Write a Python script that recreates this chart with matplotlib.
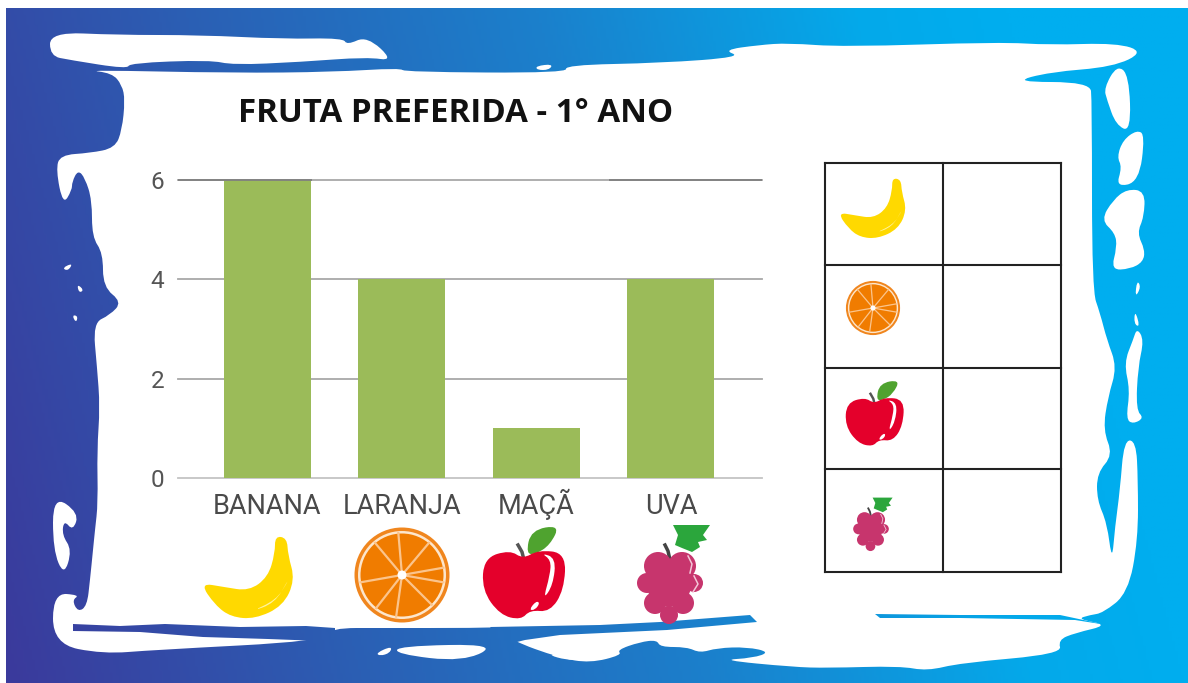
import numpy as np
import matplotlib
matplotlib.use('Agg')
import matplotlib.pyplot as plt
from matplotlib.colors import LinearSegmentedColormap
from matplotlib.patches import Polygon, Circle, PathPatch
from matplotlib.path import Path

# chart data
categories = ['BANANA', 'LARANJA', 'MAÇÃ', 'UVA']
votes = [6, 4, 1, 4]
y_ticks = [0, 2, 4, 6]
title = 'FRUTA PREFERIDA - 1° ANO'

W, H = 1188, 683
fig = plt.figure(figsize=(W / 100, H / 100), dpi=100, facecolor='white')

# full figure axes in pixel coords for the frame, table and icons
bg = fig.add_axes([0, 0, 1, 1], zorder=0)
bg.axis('off')

xx, yy = np.meshgrid(np.linspace(0, 1, 400), np.linspace(0, 1, 200))
grad = xx + 0.15 * (1 - yy)
cmap = LinearSegmentedColormap.from_list(
    'frame', [(0, '#3B3A9C'), (0.3, '#2B5FB4'), (0.6, '#1B80CC'), (0.87, '#04A9EA'), (1, '#00AEEF')])
extent = (6, W, H, 8)
bg.imshow(grad, cmap=cmap, vmin=0, vmax=1, extent=extent, aspect='auto', zorder=0)


def smooth(pts, color, z=5):
    # closed quadratic spline through the midpoints
    pts = np.array(pts, dtype=float)
    nxt = np.roll(pts, -1, axis=0)
    mids = (pts + nxt) / 2
    verts = [mids[-1]]
    codes = [Path.MOVETO]
    for p, m in zip(pts, mids):
        verts += [p, m]
        codes += [Path.CURVE3, Path.CURVE3]
    bg.add_patch(PathPatch(Path(verts, codes), fc=color, ec='none', zorder=z))


def white(pts, z=1):
    smooth(pts, 'white', z)


def blue(pts, z=2):
    # blue bits on top of the white brush, same gradient as the back
    im = bg.imshow(grad, cmap=cmap, vmin=0, vmax=1, extent=extent, aspect='auto', zorder=z)
    im.set_clip_path(Polygon(pts, closed=True, transform=bg.transData))


# main brush stroke
white([(85, 70), (112, 73), (122, 85), (125, 100), (122, 130), (115, 148), (90, 153), (60, 155), (56, 170),
       (63, 205), (72, 190), (72, 182), (78, 170), (85, 178), (92, 200), (92, 237), (103, 253), (103, 287),
       (122, 302), (110, 315), (93, 323), (97, 367), (100, 407), (97, 450), (98, 503), (95, 530), (93, 550),
       (90, 580), (87, 606), (78, 612), (72, 600), (80, 595), (53, 593), (53, 644), (103, 654), (153, 650),
       (325, 641), (330, 628), (383, 628), (478, 628), (500, 627), (510, 640), (560, 658), (590, 663),
       (622, 655), (617, 650), (640, 642), (657, 640), (660, 647), (687, 647), (700, 653), (717, 648),
       (747, 647), (770, 652), (753, 658), (720, 660), (793, 667), (827, 668), (900, 666), (927, 671),
       (960, 663), (1062, 654), (1058, 640), (1075, 633), (1109, 625), (1077, 619), (1090, 615), (1103, 613),
       (1128, 593), (1138, 540), (1138, 480), (1136, 441), (1124, 440), (1120, 490), (1115, 527), (1112, 562),
       (1107, 523), (1097, 500), (1097, 473), (1113, 455), (1103, 430), (1108, 397), (1117, 367), (1107, 340),
       (1100, 313), (1092, 290), (1092, 100), (1090, 82), (1012, 82), (1050, 72), (1113, 67), (1144, 52),
       (1117, 43), (1050, 45), (1000, 42), (843, 47), (788, 43), (759, 45), (723, 50), (742, 57), (662, 63),
       (565, 65), (567, 73), (405, 72), (400, 68), (333, 72), (233, 73)])
# top left strip
white([(50, 32), (117, 35), (200, 35), (283, 39), (343, 38), (347, 45), (367, 36), (394, 61), (367, 57),
       (300, 62), (233, 65), (210, 60), (130, 63), (127, 69), (70, 60), (50, 56)])
# right side flakes
white([(1117, 65), (1129, 75), (1131, 132), (1116, 125), (1107, 100), (1104, 88)])
white([(1137, 130), (1145, 135), (1139, 182), (1116, 187), (1122, 167), (1117, 157), (1123, 140)])
white([(1127, 189), (1145, 191), (1144, 217), (1137, 233), (1145, 250), (1143, 262), (1130, 269), (1111, 270),
       (1117, 247), (1115, 233), (1101, 220), (1113, 200)])
white([(1137, 280), (1141, 287), (1135, 298)])
white([(1135, 310), (1140, 327), (1134, 324)])
white([(1137, 328), (1144, 340), (1138, 367), (1136, 410), (1144, 418), (1133, 424), (1126, 419), (1130, 390),
       (1124, 363), (1133, 340)])
# left side flakes
white([(53, 495), (79, 513), (73, 531), (64, 520), (62, 535), (72, 550), (64, 576), (53, 550)])
white([(62, 268), (73, 263), (68, 271)])
white([(77, 284), (84, 290), (79, 293)])
white([(72, 315), (78, 316), (76, 323)])
# bottom flakes
white([(376, 653), (392, 646), (390, 653), (380, 656)])
white([(398, 646), (499, 644), (463, 662), (396, 654)])
white([(541, 653), (602, 655), (574, 662)])
white([(536, 66), (553, 64), (549, 70), (537, 70)])

# blue strips over the white
blue([(73, 624), (120, 626), (165, 624), (240, 627), (306, 626), (335, 628), (335, 645), (321, 641), (268, 639),
      (203, 637), (140, 632), (73, 631)])
blue([(490, 627), (600, 625), (660, 622), (750, 615), (757, 622), (667, 630), (560, 635), (525, 640), (505, 645)])
blue([(875, 614), (960, 615), (1060, 615), (1107, 625), (1075, 620), (960, 618), (880, 618)])

# table on the right
table_x = [825, 943, 1061]
table_y = [163, 265, 368, 469, 572]
for x in table_x:
    bg.plot([x, x], [table_y[0], table_y[-1]], color='#222222', lw=1.5, zorder=3)
for y in table_y:
    bg.plot([table_x[0], table_x[-1]], [y, y], color='#222222', lw=1.5, zorder=3)


def move(pts, ref, cx, cy, s):
    pts = np.array(pts, dtype=float)
    return (pts - np.array(ref)) * s + np.array([cx, cy])


def banana(cx, cy, s):
    ref = (248, 577)
    smooth(move([(200, 583), (215, 605), (231, 617), (255, 619), (283, 606), (295, 580), (288, 555), (287, 538),
                 (275, 536), (275, 553), (268, 577), (249, 591), (224, 587)], ref, cx, cy, s), '#FFD900')
    smooth(move([(250, 612), (275, 603), (288, 580), (287, 583), (276, 600)], ref, cx, cy, s), '#FFF3A0', 6)


def orange(cx, cy, s):
    bg.add_patch(Circle((cx, cy), 47.5 * s, fc='#F0861E', ec='none', zorder=5))
    bg.add_patch(Circle((cx, cy), 44 * s, fc='#FDE6CC', ec='none', zorder=5))
    bg.add_patch(Circle((cx, cy), 41.5 * s, fc='#F07C00', ec='none', zorder=5))
    for a in np.radians([10, 50, 95, 130, 190, 232, 262, 315, 350]):
        bg.plot([cx, cx + 42 * s * np.cos(a)], [cy, cy - 42 * s * np.sin(a)], color='#FBC48C', lw=1.6 * s, zorder=6)
    bg.add_patch(Circle((cx, cy), 4.5 * s, fc='white', ec='none', zorder=7))


def apple(cx, cy, s):
    ref = (523, 585)
    smooth(move([(526, 554), (531, 530), (560, 525), (550, 545), (536, 554)], ref, cx, cy, s), '#4FA32F')
    bg.plot(*move([(518, 545), (522, 552), (524, 560)], ref, cx, cy, s).T, color='#555555', lw=2.5 * s, zorder=5)
    smooth(move([(484, 558), (510, 550), (523, 559), (538, 550), (566, 553), (564, 590), (550, 612), (530, 610),
                 (521, 620), (500, 615), (482, 590)], ref, cx, cy, s), '#E4002B')
    smooth(move([(541, 553), (556, 558), (553, 585), (543, 600), (550, 575), (551, 560)], ref, cx, cy, s), 'white', 6)
    smooth(move([(529, 610), (536, 601), (540, 603), (535, 610)], ref, cx, cy, s), 'white', 6)


def grape(cx, cy, s):
    ref = (670, 585)
    leaf = move([(673, 525), (710, 525), (703, 535), (707, 540), (698, 542), (700, 547), (692, 552), (682, 548),
                 (675, 545), (678, 535)], ref, cx, cy, s)
    bg.add_patch(Polygon(leaf, closed=True, fc='#2BA63C', ec='none', zorder=5))
    bg.plot(*move([(665, 545), (668, 551), (670, 560)], ref, cx, cy, s).T, color='#444444', lw=2.5 * s, zorder=5)
    blobs = [(658, 566, 14), (682, 566, 14), (647, 583, 10), (694, 583, 9), (669, 585, 22),
             (655, 603, 11), (683, 603, 11), (669, 615, 9)]
    for bx, by, r in blobs:
        c = move([(bx, by)], ref, cx, cy, s)[0]
        bg.add_patch(Circle(c, r * s, fc='#C7356D', ec='none', zorder=5))
    bg.plot(*move([(688, 556), (692, 564), (690, 573)], ref, cx, cy, s).T, color='#F3C6D8', lw=1.1 * s, zorder=6)
    bg.plot(*move([(694, 576), (698, 584), (693, 592)], ref, cx, cy, s).T, color='#F3C6D8', lw=1.1 * s, zorder=6)


banana(248, 577, 1)
orange(402, 575, 1)
apple(523, 585, 1)
grape(670, 585, 1)
banana(872.5, 208, 0.73)
orange(873, 308, 0.57)
apple(874, 422, 0.705)
grape(871, 530, 0.54)

bg.text(456, 113, title, fontsize=23.8, fontweight='bold', family='Open Sans', color='#111111',
        ha='center', va='center', zorder=5)

bg.set_xlim(0, W)
bg.set_ylim(H, 0)

# the bar chart
ax = fig.add_axes([178 / W, 1 - 478 / H, 584 / W, 298 / H], zorder=1)
ax.patch.set_visible(False)
x = np.arange(len(categories))
ax.bar(x, votes, width=0.647, color='#9BBB59', zorder=3)
ax.set_xlim(-0.665, 3.677)
ax.set_ylim(0, 6)
ax.set_yticks(y_ticks)
ax.set_xticks(x)
ax.set_xticklabels(categories, family='Roboto', fontsize=19.5, color='#4A4A4A', va='baseline')
for lab in ax.get_yticklabels():
    lab.set_family('Roboto')
    lab.set_fontsize(17.5)
    lab.set_color('#555555')
ax.tick_params(axis='both', length=0)
ax.tick_params(axis='y', pad=10)
ax.tick_params(axis='x', pad=26)
for s in ['top', 'right', 'left']:
    ax.spines[s].set_visible(False)
ax.spines['bottom'].set_color('#C4C4C4')
ax.spines['bottom'].set_linewidth(1.3)
for v in y_ticks[1:]:
    ax.axhline(v, color='#A8A8A8', lw=1.3, zorder=2, clip_on=False)
# top line is darker at both ends
ax.hlines(6, -0.665, 0.33, color='#808080', lw=1.3, zorder=4, clip_on=False)
ax.hlines(6, 2.54, 3.677, color='#808080', lw=1.3, zorder=2, clip_on=False)

plt.savefig('out.png', dpi=100)
